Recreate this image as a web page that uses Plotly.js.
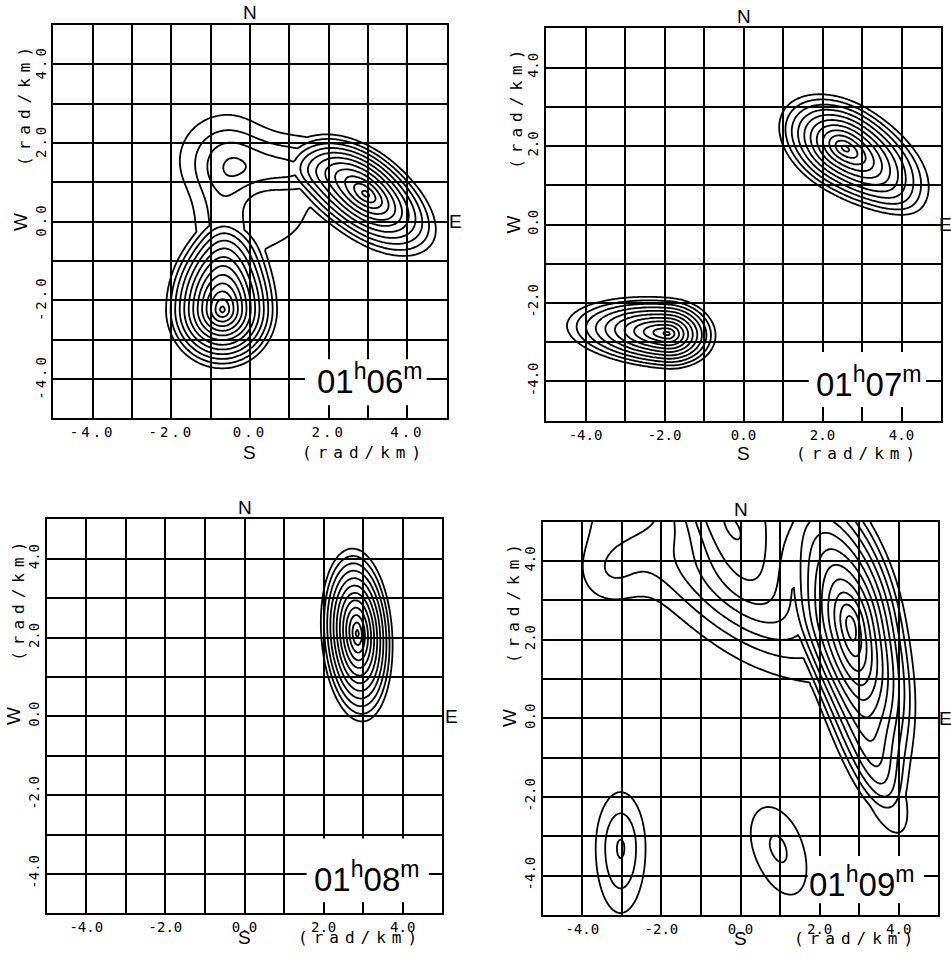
<!DOCTYPE html>
<html><head><meta charset="utf-8">
<script src="https://cdn.plot.ly/plotly-3.0.1.min.js"></script>
<style>html,body{margin:0;padding:0;background:#fff}</style>
</head><body><div id="chart" style="width:951px;height:959px"></div>
<script>
// ---- tick labels / texts ----
const tickVals = [-4, -2, 0, 2, 4];
const tickText = ['-4.0', '-2.0', '0.0', '2.0', '4.0'];
const axisUnit = '(rad/km)';
const compass = ['N', 'S', 'E', 'W'];
const panelHour = ['01', '01', '01', '01'];
const panelMinute = ['06', '07', '08', '09'];

// ---- spectral lobes ----
// Panel 01h06m: A (south-west peak), B (east peak), C (small north bump), AC / CB / AB bridges
const p1Kind = ['cone', 'cone', 'gauss', 'gauss', 'gauss', 'gauss'];
const p1X    = [-0.7, 2.95, -0.6, -0.7, 1.0, 0.7];
const p1Y    = [-2.25, 0.7, 1.65, -0.1, 1.35, -0.1];
const p1Amp  = [13.3, 11.3, 2.5, 2.2, 3.0, 1.3];
const p1Ang  = [90, -38, 0, 90, 0, 30];
const p1Ap   = [2.2, 2.3, 0.7, 1.0, 1.1, 0.9];
const p1Am   = [1.6, 2.1, 0.8, 1.0, 1.1, 0.9];
const p1Bp   = [1.55, 1.15, 0.75, 0.5, 0.55, 0.5];
const p1Bm   = [1.5, 1.25, 0.75, 0.5, 0.45, 0.5];
// Panel 01h07m
const p2Kind = ['cone', 'gauss', 'cone'];
const p2X    = [2.57, 3.9, -1.92];
const p2Y    = [1.94, 0.6, -2.78];
const p2Amp  = [11.5, 0.9, 11.5];
const p2Ang  = [-32, -35, -5];
const p2Ap   = [2.6, 0.8, 1.33];
const p2Am   = [2.0, 0.8, 2.8];
const p2Bp   = [1.27, 0.35, 1.0];
const p2Bm   = [1.27, 0.35, 0.98];
// Panel 01h08m
const p3Kind = ['cone'];
const p3X    = [2.85];
const p3Y    = [2.1];
const p3Amp  = [12.5];
const p3Ang  = [93.8];
const p3Ap   = [2.35];
const p3Am   = [2.43];
const p3Bp   = [0.99];
const p3Bm   = [0.96];
// Panel 01h09m: E (main), diagonal band, F (north-west), west lobe, north lobe, E tail, G and H (southern bumps)
const p4Kind = ['cone', 'gauss', 'gauss', 'gauss', 'gauss', 'gauss', 'gauss', 'gauss'];
const p4X    = [2.8, -0.5, -1.0, -3.3, 0.9, 3.55, -3.03, 0.95];
const p4Y    = [2.35, 3.3, 5.7, 3.7, 5.8, -1.6, -3.3, -3.3];
const p4Amp  = [12.0, 2.6, 4.0, 1.6, 5.6, 2.2, 3.08, 2.15];
const p4Ang  = [-79, -33, -55, 0, 0, -70, 90, -70];
const p4Ap   = [4.8, 2.6, 1.9, 0.6, 1.3, 1.1, 0.95, 1.0];
const p4Am   = [3.3, 2.6, 1.5, 0.6, 1.3, 1.1, 1.1, 0.88];
const p4Bp   = [1.5, 0.75, 0.6, 0.6, 2.0, 0.4, 0.42, 0.5];
const p4Bm   = [1.35, 0.75, 0.6, 0.6, 2.0, 0.4, 0.42, 0.5];

// ---- build fields ----
const gx = [], gy = [];
for (let i = 0; i <= 200; i++) { gx.push(-5 + i * 0.05); gy.push(-5 + i * 0.05); }

function buildField(kind, X, Y, A, ang, ap, am, bp, bm) {
  const z = [];
  for (let j = 0; j < gy.length; j++) {
    const row = [];
    for (let i = 0; i < gx.length; i++) {
      let s = 0;
      for (let k = 0; k < X.length; k++) {
        const t = ang[k] * Math.PI / 180;
        const dx = gx[i] - X[k], dy = gy[j] - Y[k];
        const u = dx * Math.cos(t) + dy * Math.sin(t);
        const v = -dx * Math.sin(t) + dy * Math.cos(t);
        const uu = u / (u >= 0 ? ap[k] : am[k]);
        const vv = v / (v >= 0 ? bp[k] : bm[k]);
        const r2 = uu * uu + vv * vv;
        if (kind[k] === 'cone') s += A[k] * Math.max(0, 1 - Math.sqrt(r2));
        else s += A[k] * Math.exp(-0.5 * r2);
      }
      row.push(s);
    }
    z.push(row);
  }
  return z;
}

const fields = [
  buildField(p1Kind, p1X, p1Y, p1Amp, p1Ang, p1Ap, p1Am, p1Bp, p1Bm),
  buildField(p2Kind, p2X, p2Y, p2Amp, p2Ang, p2Ap, p2Am, p2Bp, p2Bm),
  buildField(p3Kind, p3X, p3Y, p3Amp, p3Ang, p3Ap, p3Am, p3Bp, p3Bm),
  buildField(p4Kind, p4X, p4Y, p4Amp, p4Ang, p4Ap, p4Am, p4Bp, p4Bm)
];

// ---- layout geometry (pixels) ----
const W = 951, H = 959;
const frames = [[53.3, 446.7, 25, 418.3], [546, 941, 28.3, 420.7], [46.7, 442.3, 519.3, 913.3], [542.7, 938.3, 521.7, 915]];
const boxes = [[1.4, 4.49, -4.67, -3.5], [1.65, 4.62, -4.65, -3.25], [1.57, 4.66, -4.72, -3.1], [1.7, 4.64, -4.7, -3.5]];
const labelPos = [[3.05, -4.0], [3.17, -4.01], [3.1, -4.07], [3.07, -4.15]];
const sOff = [34, 33, 24, 23];

const px = p => p / W;
const py = p => 1 - p / H;
const spaced = (t, sp) => `<span style="letter-spacing:${sp}px">${t}</span>`;

const layout = {
  width: W, height: H, margin: {l: 0, r: 0, t: 0, b: 0},
  paper_bgcolor: '#fff', plot_bgcolor: '#fff', showlegend: false,
  shapes: [], annotations: []
};
const data = [];

frames.forEach((f, k) => {
  const n = k + 1, sx = n === 1 ? '' : String(n);
  const [L, R, T, B] = f;
  const common = {
    range: [-5, 5], fixedrange: true, showline: true, mirror: true,
    linecolor: '#000', linewidth: 2, ticks: '',
    tickmode: 'array', tickvals: tickVals, ticktext: tickText,
    tickfont: {family: 'DejaVu Sans Mono, monospace', size: 14, color: '#000'},
    showgrid: true, gridcolor: '#000', gridwidth: 2,
    minor: {tickmode: 'linear', tick0: 0, dtick: 1, showgrid: true, gridcolor: '#000', gridwidth: 2, ticks: ''},
    zeroline: true, zerolinecolor: '#000', zerolinewidth: 2
  };
  layout['xaxis' + sx] = Object.assign({}, common, {domain: [px(L), px(R)], anchor: 'y' + sx, tickangle: 0});
  layout['yaxis' + sx] = Object.assign({}, common, {domain: [py(B), py(T)], anchor: 'x' + sx, tickangle: -90});

  data.push({
    type: 'contour', x: gx, y: gy, z: fields[k], xaxis: 'x' + sx, yaxis: 'y' + sx,
    autocontour: false, contours: {coloring: 'none', start: 1, end: 20, size: 1},
    line: {color: '#000', width: 1.8, smoothing: 1}, showscale: false, hoverinfo: 'skip'
  });

  const bx = boxes[k];
  layout.shapes.push({type: 'rect', xref: 'x' + sx, yref: 'y' + sx, x0: bx[0], x1: bx[1], y0: bx[2], y1: bx[3],
    fillcolor: '#fff', line: {width: 0}, layer: 'above'});

  const xc = (L + R) / 2, ppu = (R - L) / 10, y0 = (T + B) / 2, ppuy = (B - T) / 10;
  const sansFont = {family: 'Liberation Sans, Arial, sans-serif', size: 19, color: '#000'};
  const monoFont = {family: 'DejaVu Sans Mono, monospace', size: 16, color: '#000'};
  const base = {xref: 'paper', yref: 'paper', showarrow: false, xanchor: 'center', yanchor: 'middle'};
  const ann = layout.annotations;
  ann.push(Object.assign({}, base, {x: px(xc), y: py(T - 12), text: compass[0], font: sansFont}));
  ann.push(Object.assign({}, base, {x: px(xc), y: py(B + sOff[k]), text: compass[1], font: sansFont}));
  ann.push(Object.assign({}, base, {x: px(Math.min(R + 9, 945)), y: py(y0), text: compass[2], font: sansFont}));
  ann.push(Object.assign({}, base, {x: px(L - 33), y: py(y0), text: compass[3], textangle: -90, font: sansFont}));
  ann.push(Object.assign({}, base, {x: px(xc + 2.92 * ppu), y: py(B + sOff[k]), text: spaced(axisUnit, 6), font: monoFont}));
  ann.push(Object.assign({}, base, {x: px(L - 29), y: py(y0 - 3.0 * ppuy), text: spaced(axisUnit, 6), textangle: -90, font: monoFont}));
  ann.push({xref: 'x' + sx, yref: 'y' + sx, x: labelPos[k][0], y: labelPos[k][1], xanchor: 'center', yanchor: 'middle',
    text: panelHour[k] + '<sup>h</sup>' + panelMinute[k] + '<sup>m</sup>', showarrow: false,
    font: {family: 'Liberation Sans Narrow, Arial Narrow, Liberation Sans, sans-serif', size: 33, color: '#000'}});
});

Plotly.newPlot('chart', data, layout, {staticPlot: true, displayModeBar: false}).then(gd => {
  // plotter-style wide spacing of the tick numerals
  gd.querySelectorAll('g.xtick text, g.ytick text').forEach(t => { t.style.letterSpacing = '3px'; });
});
</script>
</body></html>
